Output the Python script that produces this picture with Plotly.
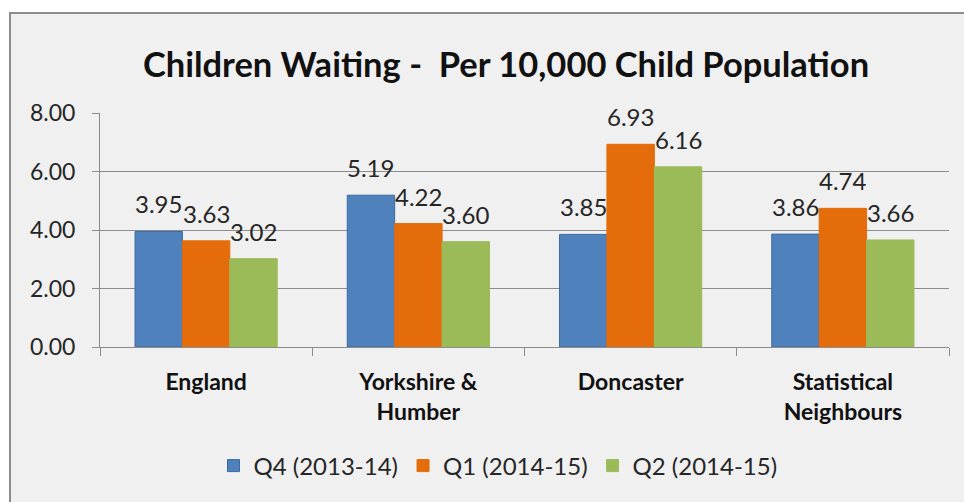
import plotly.graph_objects as go

categories = ["England", "Yorkshire &<br>Humber", "Doncaster", "Statistical<br>Neighbours"]
series_names = ["Q4 (2013-14)", "Q1 (2014-15)", "Q2 (2014-15)"]
q4_2013_14 = [3.95, 5.19, 3.85, 3.86]
q1_2014_15 = [3.63, 4.22, 6.93, 4.74]
q2_2014_15 = [3.02, 3.60, 6.16, 3.66]
colors = ["#4f81bd", "#e46c0a", "#9bbb59"]
edge = ["#3a6aa0", "#e46c0a", "#9bbb59"]
y_ticks = [0, 2, 4, 6, 8]

FONT = "Lato"
W, H = 964, 502
L, R, T, B = 100, 15, 113, 155
pw, ph = W - L - R, H - T - B
BARGAP = 0.33
barw = pw / len(categories) * (1 - BARGAP) / len(series_names)

fig = go.Figure()
all_series = [q4_2013_14, q1_2014_15, q2_2014_15]
for i, (name, vals, c, e) in enumerate(zip(series_names, all_series, colors, edge)):
    fig.add_trace(go.Bar(
        x=categories, y=vals, name=name,
        marker=dict(color=c, line=dict(color=e, width=1)),
    ))
    for cat, v in zip(categories, vals):
        fig.add_annotation(x=cat, y=v, text=f"{v:.2f}", showarrow=False,
                           xanchor="center", yanchor="bottom",
                           xshift=(i - 1) * barw, yshift=11,
                           font=dict(family=FONT, size=24, color="#262626"))

def px_x(x):
    return (x - L) / pw

def px_y(y):
    return (H - B - y) / ph

fig.add_shape(type="rect", xref="paper", yref="paper",
              x0=px_x(10), x1=px_x(980), y0=px_y(515), y1=px_y(13),
              fillcolor="#f0f0f0", line=dict(color="#8c8c8c", width=2), layer="below")

fig.update_layout(
    width=W, height=H,
    margin=dict(l=L, r=R, t=T, b=B),
    paper_bgcolor="white", plot_bgcolor="white",
    barmode="group", bargap=BARGAP, bargroupgap=0,
    font=dict(family=FONT, color="#262626"),
    title=dict(text="<b>Children Waiting -  Per 10,000 Child Population</b>",
               x=506 / W, xanchor="center", y=1 - 65 / H, yanchor="middle",
               font=dict(family=FONT, size=34.5, color="#111111")),
    legend=dict(orientation="h", x=498 / W, xanchor="center", xref="container",
                y=1 - 466 / H, yanchor="middle", yref="container",
                font=dict(family=FONT, size=24, color="#262626"),
                bgcolor="rgba(0,0,0,0)", itemwidth=30, traceorder="normal"),
    showlegend=True,
)
fig.update_yaxes(range=[0, 8], tickvals=y_ticks, tickformat=".2f",
                 showgrid=True, gridcolor="#8c8c8c", gridwidth=1,
                 showline=True, linecolor="#8c8c8c", linewidth=1,
                 ticks="outside", ticklen=7, tickcolor="#8c8c8c", ticklabelstandoff=12,
                 tickfont=dict(family=FONT, size=23, color="#262626"),
                 zeroline=False)
fig.update_xaxes(showline=True, linecolor="#8c8c8c", linewidth=1,
                 ticks="outside", ticklen=8, tickcolor="#8c8c8c", tickson="boundaries",
                 ticklabelstandoff=14,
                 tickfont=dict(family=FONT, size=23, color="#111111", weight="bold"),
                 showgrid=False)

fig.write_html("out.html", config={"displayModeBar": False},
               post_script="document.body.style.margin='0';document.body.style.overflow='hidden';")
